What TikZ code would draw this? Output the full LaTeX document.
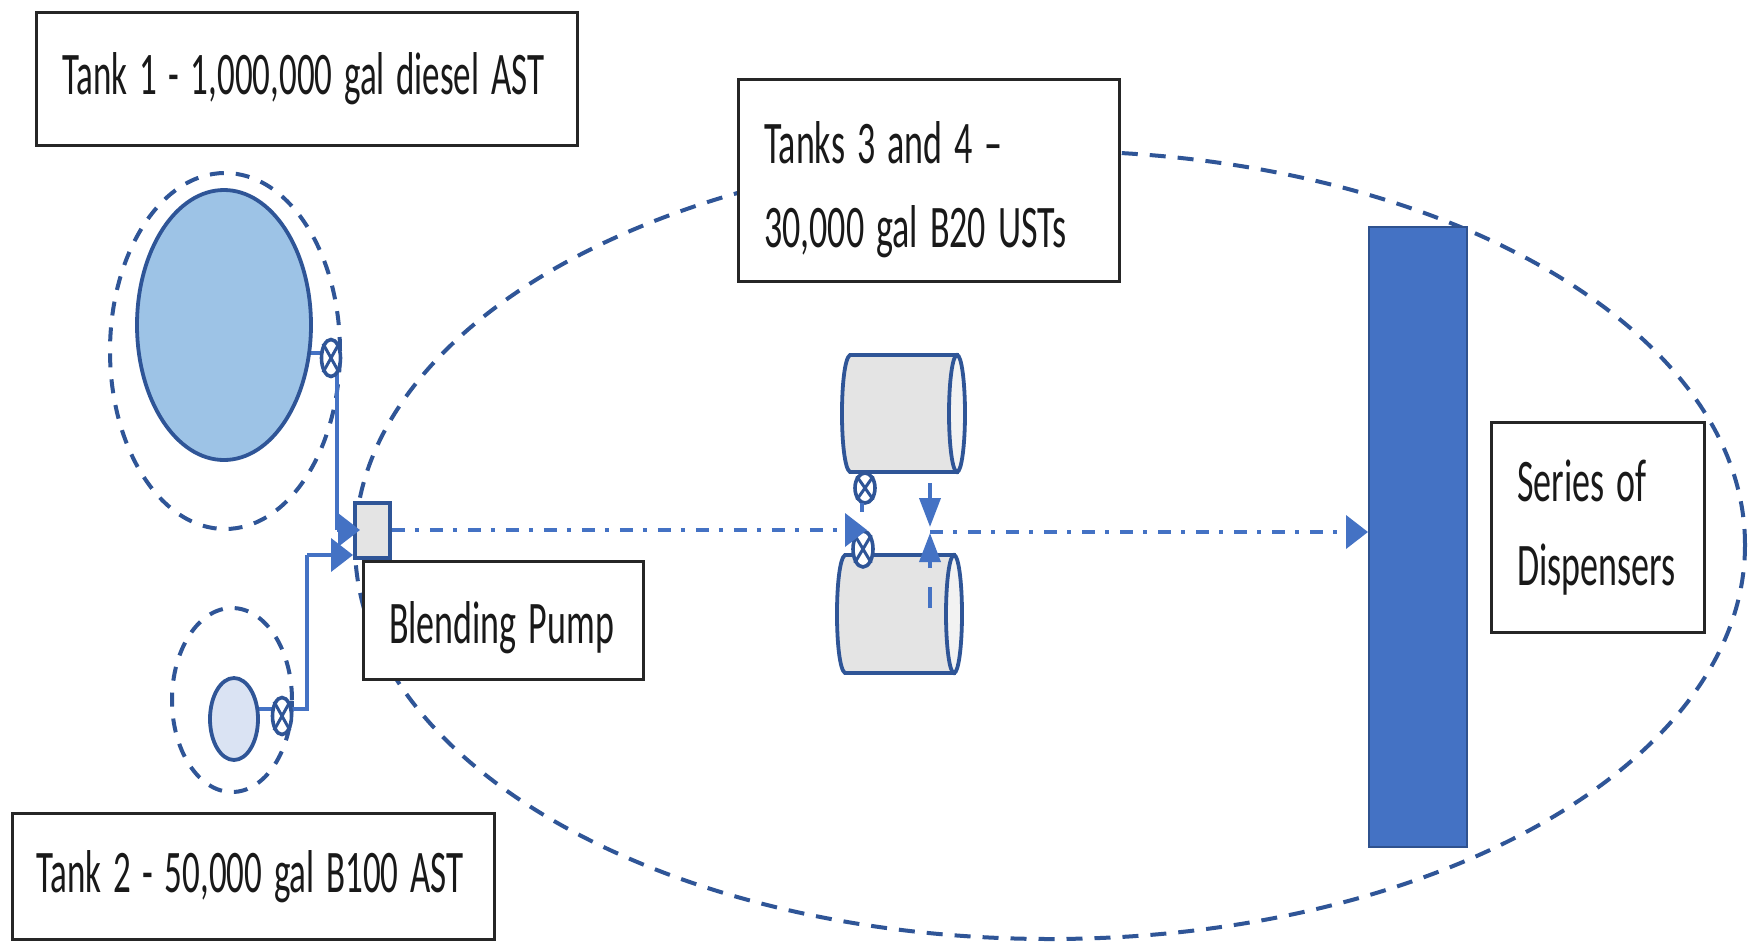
\documentclass[tikz,border=0pt]{standalone}
\usepackage{fontspec}
\setmainfont[WordSpace=0.45]{Carlito}
\usetikzlibrary{shapes.geometric,arrows.meta}
\definecolor{dk}{HTML}{2F5597}
\definecolor{ln}{HTML}{4472C4}
\definecolor{gr}{HTML}{E4E4E4}
\newcommand{\tx}[1]{\scalebox{1}[1.68]{#1}}
\newcommand{\txn}[1]{\scalebox{0.972}[1.68]{#1}}
\tikzset{
  label box/.style={draw=black!85,line width=3.2pt,fill=white,rectangle,anchor=north west,align=left,inner ysep=0pt,
    font=\fontsize{36}{84}\selectfont,text=black!90},
  tank/.style={draw=dk,line width=3.8pt,ellipse,inner sep=0pt},
  halo/.style={draw=dk,line width=4pt,dash pattern=on 14pt off 12pt},
  valvebody/.style={draw=dk,line width=3.6pt,ellipse,inner sep=0pt,fill=white},
  pipe/.style={draw=ln,line width=3.8pt},
  flow/.style={draw=ln,line width=4pt,dash pattern=on 13pt off 10pt on 4pt off 11pt},
  headA/.style={-{Triangle[length=22pt,width=33pt]}},
  headB/.style={-{Triangle[length=29pt,width=21pt]}},
  ust/.style={draw=dk,line width=3.8pt,fill=gr},
}
\newcommand{\valve}[5]{%
  \node[valvebody,minimum width=#4pt,minimum height=#5pt] (#1) at (#2,#3) {};
  \draw[dk,line width=3pt] (#1.north west)--(#1.south east) (#1.north east)--(#1.south west);
}
% name, left, top, cap centre x, bottom
\newcommand{\usttank}[5]{%
  \path[ust] (#2+8,#3) -- (#4,#3) -- (#4,#5) -- (#2+8,#5)
     .. controls (#2-2.7,#5-6) and (#2-2.7,#3+6) .. (#2+8,#3) -- cycle;
  \node[ust,fill=gr!50,ellipse,inner sep=0pt,minimum width=16pt,minimum height=#5pt-#3pt] (#1) at (#4,#3/2+#5/2) {};
}
\begin{document}
\begin{tikzpicture}[x=1pt,y=-1pt]
\useasboundingbox (0,0) rectangle (1756,943);
\fill[white] (0,0) rectangle (1756,943);

% large dashed ellipse
\node[ellipse,draw=dk,line width=4pt,dash pattern=on 16pt off 12pt,inner sep=0pt,minimum width=1390pt,minimum height=788pt] (site) at (1050,545) {};

% halos
\node[ellipse,halo,inner sep=0pt,minimum width=230pt,minimum height=356pt] (haloone) at (225,351) {};
\node[ellipse,halo,inner sep=0pt,minimum width=120pt,minimum height=184pt] (halotwo) at (232,700) {};

% tank anchors and piping
\coordinate (tipone) at (360,530);
\coordinate (tiptwo) at (353,555);
\coordinate (elbowone) at (337,530);
\coordinate (elbowtwo) at (307,555);
\coordinate (elbowtwob) at (307,709);
\coordinate (vone) at (331,353);
\coordinate (vtwo) at (282,709);
\coordinate (cone) at (224,353);
\coordinate (ctwo) at (234,709);
\draw[pipe] (cone) -- (vone);
\draw[pipe] (ctwo) -- (vtwo);
\draw[pipe] (337,358) -- (elbowone);
\draw[pipe] (vtwo) -- (elbowtwob) -- (elbowtwo);

% tanks
\node[tank,fill={rgb,255:red,157;green,195;blue,230},minimum width=174pt,minimum height=270pt] (tankone) at (224,325) {};
\node[tank,fill={rgb,255:red,218;green,227;blue,243},minimum width=48pt,minimum height=82pt] (tanktwo) at (234,719) {};

% pump
\node[draw=dk,line width=3.6pt,fill=gr,rectangle,minimum width=35pt,minimum height=55pt,inner sep=0pt] (pump) at (372.5,530.5) {};
\draw[pipe,headA] (elbowone) -- (tipone);
\draw[pipe,headA] (elbowtwo) -- (tiptwo);
\valve{valveone}{331}{358}{19}{37}
\valve{valvetwo}{282}{716}{19}{37}

% USTs
\usttank{ustup}{842}{355}{957}{472}
\usttank{ustlow}{837}{555}{954}{673}
\valve{valveup}{865}{488}{20}{30}
\valve{valvelow}{863}{549}{20}{36}

% dispensers
\node[draw={rgb,255:red,47;green,82;blue,143},line width=2pt,fill=ln,rectangle,minimum width=98pt,minimum height=620pt,inner sep=0pt] (disp) at (1418,537) {};

% flow lines
\coordinate (arrin) at (867,530);
\coordinate (jn) at (930,532);
\coordinate (jntop) at (930,483);
\coordinate (jndown) at (930,527);
\coordinate (jnbot) at (930,608);
\coordinate (jnup) at (930,533);
\coordinate (stub) at (862,503);
\coordinate (stubend) at (862,512);
\draw[flow,headA] (pump.east |- arrin) -- (arrin);
\draw[flow,headA] (jn) -- (disp.west |- jn);
\draw[pipe,headB] (jntop) -- (jndown);
\draw[pipe,dash pattern=on 21pt off 19pt,headB] (jnbot) -- (jnup);
\draw[pipe] (stub) -- (stubend);

% labels
\node[label box,minimum width=541pt,minimum height=133pt,text width=490pt,inner xsep=25pt] (lbone) at (35,11) {\txn{Tank 1 - 1,000,000 gal diesel AST}};
\node[label box,minimum width=381pt,minimum height=202pt,text width=330pt,inner xsep=25pt] (lbthree) at (737,78) {\rule{0pt}{60pt}\tx{Tanks 3 and 4 --}\\\tx{30,000 gal B20 USTs}};
\node[label box,minimum width=280pt,minimum height=118pt,text width=229pt,inner xsep=25pt] (lbpump) at (362,560) {\rule{0pt}{56pt}\tx{Blending Pump}};
\node[label box,minimum width=482pt,minimum height=126pt,text width=435pt,inner xsep=23pt] (lbtwo) at (11,812) {\txn{Tank 2 - 50,000 gal B100 AST}};
\node[label box,minimum width=213pt,minimum height=210pt,text width=162pt,inner xsep=25pt] (lbseries) at (1490,421) {\tx{Series of}\\\tx{Dispensers}};
\end{tikzpicture}
\end{document}
